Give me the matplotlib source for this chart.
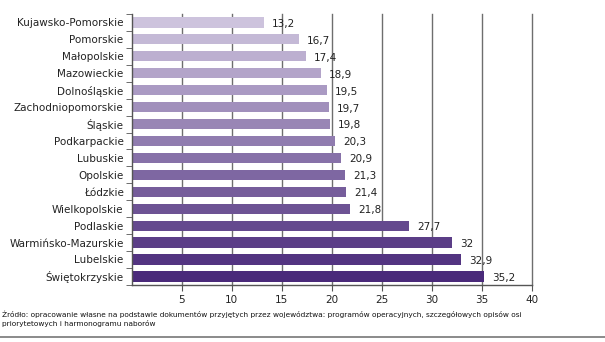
import matplotlib.pyplot as plt
import matplotlib.colors as mcolors
import numpy as np

regions = ['Kujawsko-Pomorskie', 'Pomorskie', 'Małopolskie', 'Mazowieckie',
           'Dolnośląskie', 'Zachodniopomorskie', 'Śląskie', 'Podkarpackie',
           'Lubuskie', 'Opolskie', 'Łódzkie', 'Wielkopolskie', 'Podlaskie',
           'Warmińsko-Mazurskie', 'Lubelskie', 'Świętokrzyskie']
values = [13.2, 16.7, 17.4, 18.9, 19.5, 19.7, 19.8, 20.3,
          20.9, 21.3, 21.4, 21.8, 27.7, 32, 32.9, 35.2]
x_ticks = [5, 10, 15, 20, 25, 30, 35, 40]
source_note = ('Źródło: opracowanie własne na podstawie dokumentów przyjętych przez województwa: '
               'programów operacyjnych, szczegółowych opisów osi\npriorytetowych i harmonogramu naborów')

plt.rcParams['font.family'] = ['DejaVu Sans']

fig = plt.figure(figsize=(6.05, 3.42), dpi=100)
ax = fig.add_axes([0.218, 0.167, 0.661, 0.792])

# light lavender at the top, dark purple at the bottom
cmap = mcolors.LinearSegmentedColormap.from_list('lav', ['#cdc3dd', '#4a2a7a'])
n = len(regions)
colors = [cmap(i / (n - 1)) for i in range(n)]
ypos = np.arange(n)

for x in x_ticks:
    ax.axvline(x, color='#6e6e6e', lw=1.0, zorder=1, clip_on=False)

ax.barh(ypos, values, height=0.6, color=colors, zorder=2)
for y, v in zip(ypos, values):
    label = ('%g' % v).replace('.', ',')
    ax.annotate(label, (v, y), xytext=(6, -1), textcoords='offset points',
                va='center', ha='left', fontsize=7.5, color='#222222', zorder=3)

ax.set_xlim(0, 40)
ax.set_ylim(n - 0.5, -0.5)
ax.set_yticks(ypos)
ax.set_yticklabels(regions, fontsize=7.5, color='#222222')
ax.set_yticks(np.arange(-0.5, n, 1), minor=True)
ax.tick_params(axis='y', which='major', length=0, pad=6)
ax.tick_params(axis='y', which='minor', length=4, color='#555555', direction='out')
ax.set_xticks(x_ticks)
ax.set_xticklabels([str(t) for t in x_ticks], fontsize=7.5, color='#222222')
ax.tick_params(axis='x', length=4, color='#555555', pad=3)

for side in ['top', 'right']:
    ax.spines[side].set_visible(False)
for side in ['left', 'bottom']:
    ax.spines[side].set_color('#555555')
    ax.spines[side].set_linewidth(1.0)

fig.text(0.004, 0.068, source_note, fontsize=5.35, color='#111111', va='center', ha='left',
         linespacing=1.4)
fig.add_artist(plt.Line2D([0, 1], [0.015, 0.015], color='#777777', lw=1.2))

fig.savefig('out.png', dpi=100)
